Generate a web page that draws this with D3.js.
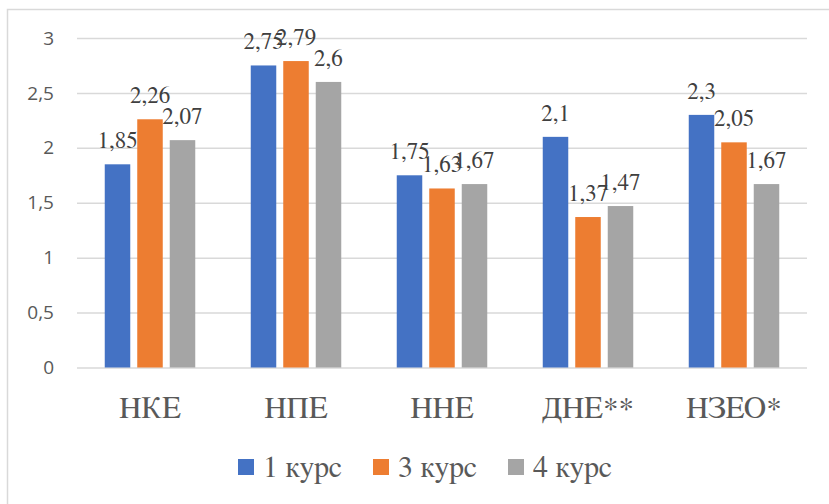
<!DOCTYPE html>
<html>
<head>
<meta charset="utf-8">
<script src="https://cdn.jsdelivr.net/npm/d3@7"></script>
</head>
<body style="margin:0">
<script>
// Категории и значения по курсам
const categories = ["НКЕ", "НПЕ", "ННЕ", "ДНЕ**", "НЗЕО*"];
const seriesNames = ["1 курс", "3 курс", "4 курс"];
const course1 = [1.85, 2.75, 1.75, 2.1, 2.3];
const course3 = [2.26, 2.79, 1.63, 1.37, 2.05];
const course4 = [2.07, 2.6, 1.67, 1.47, 1.67];
const yTicks = [0, 0.5, 1, 1.5, 2, 2.5, 3];
const colors = ["#4472C4", "#ED7D31", "#A5A5A5"];

const seriesValues = [course1, course3, course4];

const SERIF = '"FreeSerif"';
const SANS = '"Open Sans"';

const W = 829, H = 504;
const plot = { left: 77, right: 807, top: 38, bottom: 367.5 };
const groupWidth = 90.5;

const svg = d3.select("body").append("svg")
  .attr("width", W).attr("height", H)
  .style("display", "block");

// Рамка области диаграммы
svg.append("rect")
  .attr("x", 7.5).attr("y", 9.5)
  .attr("width", 840).attr("height", 520)
  .attr("fill", "#fff")
  .attr("stroke", "#d9d9d9").attr("stroke-width", 1.5);

const x = d3.scaleBand()
  .domain(categories)
  .range([plot.left, plot.right])
  .paddingInner(0).paddingOuter(0);

const xSeries = d3.scaleBand()
  .domain(seriesNames)
  .range([0, groupWidth])
  .paddingInner(0.215)
  .paddingOuter(0);

const y = d3.scaleLinear().domain([0, 3]).range([plot.bottom, plot.top]);

const fmt = v => String(v).replace(".", ",");

// Сетка и подписи оси Y
const gy = svg.append("g")
  .attr("transform", `translate(${plot.left},0)`)
  .call(d3.axisLeft(y)
    .tickValues(yTicks)
    .tickSize(-(plot.right - plot.left))
    .tickPadding(23)
    .tickFormat(fmt));
gy.select(".domain").remove();
gy.selectAll(".tick line")
  .attr("stroke", "#d9d9d9").attr("stroke-width", 1.5);
gy.selectAll(".tick text")
  .attr("fill", "#595959")
  .style("font-family", SANS)
  .style("font-size", "19px");

// Подписи категорий
const gx = svg.append("g")
  .attr("transform", `translate(0,${plot.bottom})`)
  .call(d3.axisBottom(x).tickSize(0).tickPadding(0));
gx.select(".domain").remove();
gx.selectAll(".tick text")
  .attr("fill", "#595959")
  .attr("dy", 0)
  .attr("y", 50)
  .style("font-family", SERIF)
  .style("font-size", "31px");

// Столбцы
const groupOffset = (x.bandwidth() - groupWidth) / 2;
seriesNames.forEach((name, si) => {
  const vals = seriesValues[si];
  svg.append("g")
    .attr("fill", colors[si])
    .selectAll("rect")
    .data(categories.map((c, ci) => ({ c, v: vals[ci] })))
    .join("rect")
    .attr("x", d => x(d.c) + groupOffset + xSeries(name))
    .attr("width", xSeries.bandwidth())
    .attr("y", d => y(d.v))
    .attr("height", d => y(0) - y(d.v));
});

// Подписи значений
seriesNames.forEach((name, si) => {
  const vals = seriesValues[si];
  svg.selectAll("text.v" + si)
    .data(categories.map((c, ci) => ({ c, v: vals[ci] })))
    .join("text")
    .attr("class", "v" + si)
    .attr("x", d => x(d.c) + groupOffset + xSeries(name) + xSeries.bandwidth() / 2)
    .attr("y", d => y(d.v) - 16)
    .attr("text-anchor", "middle")
    .attr("fill", "#404040")
    .style("font-family", SERIF)
    .style("font-size", "23px")
    .text(d => fmt(d.v));
});

// Легенда
const item = svg.selectAll("g.legend-item")
  .data(seriesNames)
  .join("g")
  .attr("class", "legend-item")
  .attr("transform", (d, i) => `translate(${238 + i * 135},459)`);
item.append("rect")
  .attr("width", 16).attr("height", 16)
  .attr("fill", (d, i) => colors[i]);
item.append("text")
  .attr("x", 25).attr("y", 18)
  .attr("fill", "#595959")
  .style("font-family", SERIF)
  .style("font-size", "30px")
  .text(d => d);
</script>
</body>
</html>
